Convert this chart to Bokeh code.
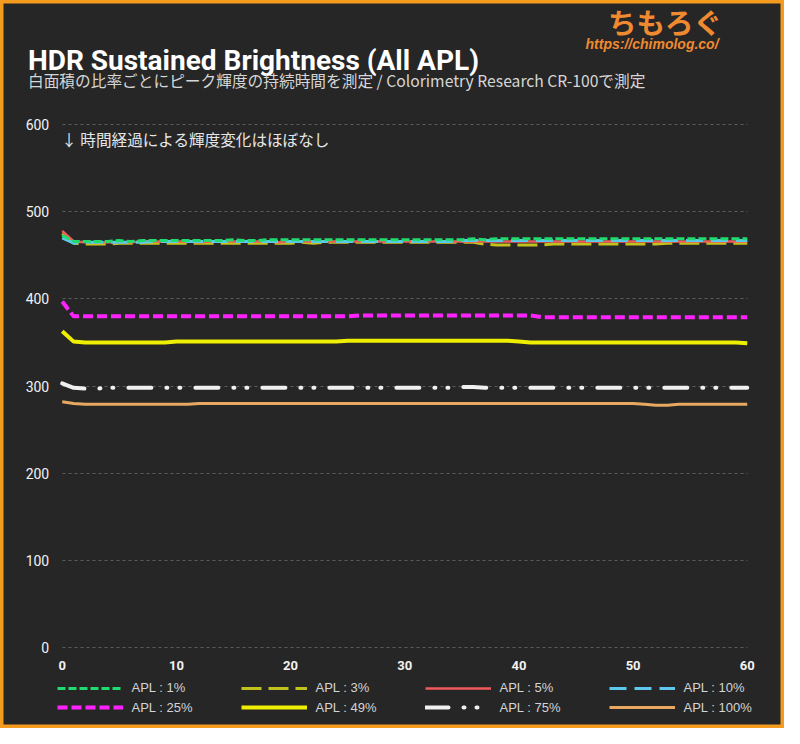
from bokeh.plotting import figure
from bokeh.models import Range1d, Label, Legend, LegendItem, FixedTicker
from bokeh.embed import file_html
from bokeh.resources import INLINE

# ---------------- data ----------------
MINUTES = list(range(61))
X_TICKS = [0, 10, 20, 30, 40, 50, 60]
Y_TICKS = [0, 100, 200, 300, 400, 500, 600]

APL_1 = [473, 466, 466, 466, 466, 467, 466, 467, 467, 467,
         467, 467, 467, 467, 467, 468, 467, 467, 468, 468,
         468, 468, 468, 468, 468, 468, 468, 468, 468, 468,
         468, 468, 468, 468, 468, 468, 469, 468, 469, 469,
         469, 469, 469, 469, 469, 469, 469, 469, 469, 469,
         469, 469, 469, 469, 469, 469, 469, 469, 469, 469, 469]
APL_3 = [475, 464, 463, 463, 463, 464, 464, 464, 464, 464,
         464, 464, 464, 464, 464, 464, 464, 464, 464, 464,
         464, 465, 464, 465, 465, 465, 465, 465, 465, 465,
         465, 465, 465, 465, 465, 465, 465, 463, 462, 462,
         462, 462, 462, 463, 463, 463, 463, 463, 463, 463,
         463, 463, 463, 464, 464, 464, 464, 464, 464, 464, 464]
APL_5 = [478, 466, 465, 465, 465, 465, 465, 466, 466, 466,
         466, 466, 465, 466, 466, 466, 466, 466, 466, 465,
         466, 466, 466, 466, 466, 466, 466, 466, 466, 466,
         466, 466, 466, 466, 466, 466, 466, 466, 466, 466,
         466, 466, 466, 466, 466, 466, 466, 466, 466, 466,
         466, 466, 466, 466, 466, 466, 466, 466, 466, 466, 466]
APL_10 = [470, 464, 465, 465, 465, 465, 465, 465, 466, 466,
          466, 466, 466, 466, 466, 466, 466, 466, 466, 466,
          466, 466, 466, 466, 466, 466, 466, 466, 466, 466,
          466, 466, 466, 466, 466, 467, 467, 467, 467, 467,
          467, 467, 467, 467, 467, 467, 467, 467, 467, 467,
          467, 467, 467, 467, 467, 467, 467, 467, 467, 467, 467]
APL_25 = [397, 380, 380, 380, 380, 380, 380, 380, 380, 380,
          380, 380, 380, 380, 380, 380, 380, 380, 380, 380,
          380, 380, 380, 380, 380, 380, 381, 381, 381, 381,
          381, 381, 381, 381, 381, 381, 381, 381, 381, 381,
          381, 381, 379, 379, 379, 379, 379, 379, 379, 379,
          379, 379, 379, 379, 379, 379, 379, 379, 379, 379, 379]
APL_49 = [363, 351, 350, 350, 350, 350, 350, 350, 350, 350,
          351, 351, 351, 351, 351, 351, 351, 351, 351, 351,
          351, 351, 351, 351, 351, 352, 352, 352, 352, 352,
          352, 352, 352, 352, 352, 352, 352, 352, 352, 352,
          351, 350, 350, 350, 350, 350, 350, 350, 350, 350,
          350, 350, 350, 350, 350, 350, 350, 350, 350, 350, 349]
APL_75 = [303, 298, 297, 297, 298, 298, 298, 298, 298, 298,
          298, 298, 298, 298, 298, 298, 298, 298, 298, 298,
          298, 298, 298, 298, 298, 298, 298, 298, 298, 298,
          298, 298, 298, 298, 298, 299, 299, 298, 298, 298,
          298, 298, 298, 298, 298, 298, 298, 298, 298, 298,
          298, 298, 298, 298, 298, 298, 298, 298, 298, 298, 298]
APL_100 = [282, 280, 279, 279, 279, 279, 279, 279, 279, 279,
           279, 279, 280, 280, 280, 280, 280, 280, 280, 280,
           280, 280, 280, 280, 280, 280, 280, 280, 280, 280,
           280, 280, 280, 280, 280, 280, 280, 280, 280, 280,
           280, 280, 280, 280, 280, 280, 280, 280, 280, 280,
           280, 279, 278, 278, 279, 279, 279, 279, 279, 279, 279]

LABELS = ["APL : 1%", "APL : 3%", "APL : 5%", "APL : 10%",
          "APL : 25%", "APL : 49%", "APL : 75%", "APL : 100%"]

TITLE = "HDR Sustained Brightness (All APL)"
SUBTITLE = "白面積の比率ごとにピーク輝度の持続時間を測定 / Colorimetry Research CR-100で測定"
NOTE = "↓ 時間経過による輝度変化はほぼなし"
LOGO = "ちもろぐ"
URL = "https://chimolog.co/"

# ---------------- style ----------------
BG = "#262626"
ROBOTO = "Roboto, sans-serif"
SANS = "'Liberation Sans', sans-serif"
CJK = "'Noto Sans CJK JP', sans-serif"
ORANGE = "#f29b1e"

W, H = 784, 728
SX, SY = W / 800.0, H / 744.0
# pixel geometry of the data area inside the canvas (scaled from the 800x744 reference)
LEFT, RIGHT, TOP, BOTTOM = 63 * SX, 762 * SX, 127 * SY, 661 * SY
XPX = (RIGHT - LEFT) / 60.0
YPX = (BOTTOM - TOP) / 600.0


def px_x(X):
    return (X * SX - LEFT) / XPX


def px_y(Y):
    return (BOTTOM - Y * SY) / YPX


p = figure(width=W, height=H, output_backend="svg", toolbar_location=None,
           title=None,
           x_range=Range1d(-LEFT / XPX, 60 + (W - RIGHT) / XPX),
           y_range=Range1d(-(H - BOTTOM) / YPX, 600 + TOP / YPX),
           min_border=0, min_border_left=0, min_border_right=0,
           min_border_top=0, min_border_bottom=0,
           background_fill_color=BG, border_fill_color=BG)
p.outline_line_color = ORANGE
p.outline_line_width = 6

p.xgrid.grid_line_color = None
grid = p.ygrid[0]
grid.ticker = FixedTicker(ticks=Y_TICKS)
grid.grid_line_color = "#5c5c5c"
grid.grid_line_dash = "3 3"
grid.grid_line_width = 1
if "cross_bounds" in grid.properties():
    grid.bounds = (Y_TICKS[0], Y_TICKS[-1])
    grid.cross_bounds = (X_TICKS[0], X_TICKS[-1])
else:
    grid.grid_line_color = None
    p.segment(x0=X_TICKS[0], x1=X_TICKS[-1], y0=Y_TICKS, y1=Y_TICKS,
              line_color="#5c5c5c", line_dash="3 3", line_width=1)

p.xaxis.ticker = FixedTicker(ticks=X_TICKS)
p.yaxis.ticker = FixedTicker(ticks=Y_TICKS)
p.xaxis.fixed_location = 0
p.yaxis.fixed_location = 0
p.xaxis.bounds = (0, 60)
p.yaxis.bounds = (0, 600)
for ax in (p.xaxis, p.yaxis):
    ax.axis_line_color = None
    ax.major_tick_line_color = None
    ax.minor_tick_line_color = None
    ax.major_tick_out = 0
    ax.major_tick_in = 0
    ax.major_label_text_font = ROBOTO
    ax.major_label_text_color = "#f2f2f2"
p.xaxis.major_label_text_font_size = "13px"
p.xaxis.major_label_text_font_style = "bold"
p.xaxis.major_label_standoff = 14
p.yaxis.major_label_text_font_size = "14px"
p.yaxis.major_label_standoff = 13

# ---------------- lines ----------------
r3 = p.line(MINUTES, APL_3, line_color="#c2c21e", line_width=3, line_dash="20 7", line_join="round")
r5 = p.line(MINUTES, APL_5, line_color="#f05a5a", line_width=2.5, line_join="round")
r10 = p.line(MINUTES, APL_10, line_color="#5ec8ee", line_width=3, line_dash="17 8", line_join="round")
r1 = p.line(MINUTES, APL_1, line_color="#1fdc6e", line_width=3, line_dash="8 3", line_join="round")
r25 = p.line(MINUTES, APL_25, line_color="#ff22ff", line_width=4, line_dash="10 4", line_join="round")
r49 = p.line(MINUTES, APL_49, line_color="#eeee00", line_width=4, line_join="round")
r75 = p.line(MINUTES, APL_75, line_color="#f0f0f0", line_width=4, line_dash="23 15 1 12 1 15",
             line_cap="round", line_join="round")
r100 = p.line(MINUTES, APL_100, line_color="#e8a862", line_width=3, line_join="round")

rows = [[r1, r3, r5, r10], [r25, r49, r75, r100]]
row_centers = [703, 723]
for i, row in enumerate(rows):
    items = [LegendItem(label=LABELS[i * 4 + j], renderers=[r]) for j, r in enumerate(row)]
    lg = Legend(items=items, orientation="horizontal",
                location=(57.7 * SX, H - row_centers[i] * SY - 8),
                glyph_width=66, glyph_height=16, label_height=16, label_width=109,
                label_standoff=9, spacing=0, padding=0, margin=0,
                background_fill_alpha=0, border_line_color=None,
                label_text_font=SANS, label_text_font_size="13px",
                label_text_color="#d4d4d4")
    p.add_layout(lg)

# ---------------- texts ----------------
p.add_layout(Label(x=px_x(28), y=px_y(61), text=TITLE, text_font=ROBOTO, text_font_size="28px",
                   text_font_style="bold", text_color="#ffffff", text_baseline="alphabetic"))
p.add_layout(Label(x=px_x(28), y=px_y(82), text=SUBTITLE, text_font=CJK, text_font_size="15.7px",
                   text_color="#d6d6d6", text_baseline="middle"))
p.add_layout(Label(x=px_x(62), y=px_y(142), text=NOTE, text_font=CJK, text_font_size="15.6px",
                   text_color="#e6e6e6", text_baseline="middle"))
p.add_layout(Label(x=px_x(620), y=px_y(21), text=LOGO, text_font=CJK, text_font_size="28.5px",
                   text_font_style="bold", text_color="#f08a30", text_baseline="middle"))
p.add_layout(Label(x=px_x(597), y=px_y(44), text=URL, text_font=SANS, text_font_size="14px",
                   text_font_style="bold italic", text_color="#f08a30", text_baseline="middle"))

open("out.html", "w").write(file_html(p, INLINE))
